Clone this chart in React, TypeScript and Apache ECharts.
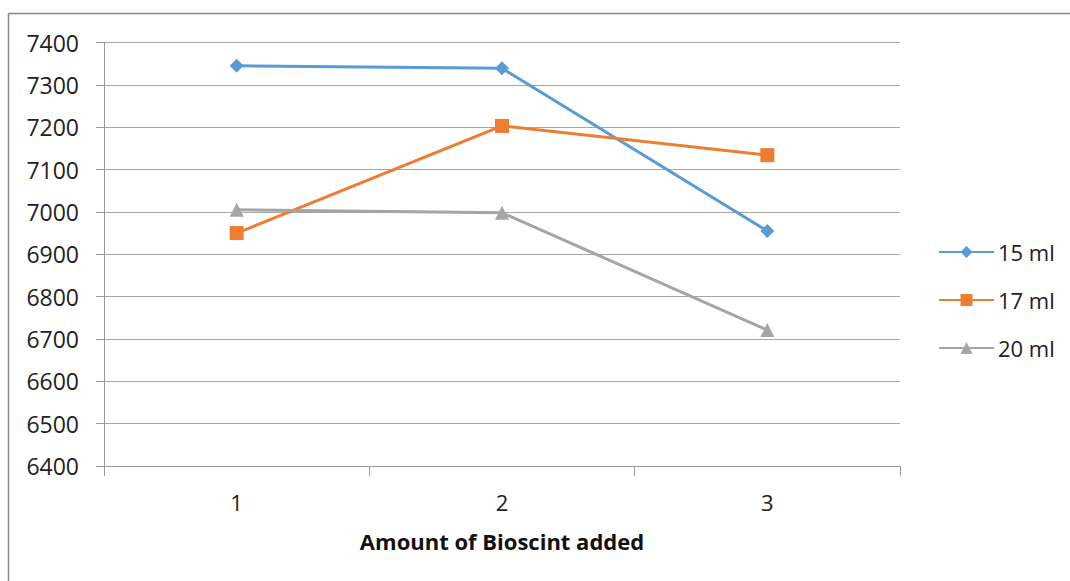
import React, { useEffect, useRef } from "react";
import * as echarts from "echarts";

const categories = ["1", "2", "3"];
const series15 = [7345, 7339, 6955];
const series17 = [6950, 7203, 7134];
const series20 = [7005, 6998, 6721];
const seriesNames = ["15 ml", "17 ml", "20 ml"];
const colors = ["#5b9bd5", "#ed7d31", "#a5a5a5"];

const FONT = "'Open Sans', sans-serif";

export default function App() {
  const ref = useRef<HTMLDivElement>(null);
  useEffect(() => {
    if (!ref.current) return;
    const chart = echarts.init(ref.current, undefined, { renderer: "svg" });
    const mk = (name: string, data: number[], color: string, symbol: string, size: number) => ({
      name,
      type: "line",
      data,
      symbol,
      symbolSize: size,
      lineStyle: { color, width: 3 },
      itemStyle: { color },
    });
    chart.setOption({
      animation: false,
      backgroundColor: "#ffffff",
      textStyle: { fontFamily: FONT },
      grid: { left: 104, right: 170, top: 42.5, bottom: 115 },
      legend: {
        orient: "vertical",
        left: 933,
        top: 235,
        itemWidth: 55,
        itemHeight: 15,
        itemGap: 24,
        textStyle: { fontSize: 22, lineHeight: 24, color: "#222", fontFamily: FONT, padding: [0, 0, 0, -1] },
        data: seriesNames,
      },
      xAxis: {
        type: "category",
        data: categories,
        boundaryGap: true,
        axisLine: { lineStyle: { color: "#999", width: 1 } },
        axisTick: { show: true, length: 10, lineStyle: { color: "#999" } },
        axisLabel: { fontSize: 22, color: "#222", margin: 25 },
        name: "Amount of Bioscint added",
        nameLocation: "middle",
        nameGap: 64,
        nameTextStyle: { fontSize: 22, fontWeight: "bold", color: "#111" },
      },
      yAxis: {
        type: "value",
        min: 6400,
        max: 7400,
        interval: 100,
        axisLine: { show: true, lineStyle: { color: "#999", width: 1 } },
        axisTick: { show: true, length: 8, lineStyle: { color: "#999" } },
        axisLabel: { fontSize: 23, color: "#222", margin: 25, formatter: (v: number) => String(v) },
        splitLine: { lineStyle: { color: "#a6a6a6", width: 1.2 } },
      },
      graphic: [
        { type: "line", shape: { x1: 8.5, y1: 13.5, x2: 1070, y2: 13.5 }, style: { stroke: "#888", lineWidth: 1.5 } },
        { type: "line", shape: { x1: 8.5, y1: 13.5, x2: 8.5, y2: 581 }, style: { stroke: "#888", lineWidth: 1.5 } },
      ],
      series: [
        mk(seriesNames[0], series15, colors[0], "diamond", 14),
        mk(seriesNames[1], series17, colors[1], "rect", 14),
        mk(seriesNames[2], series20, colors[2], "triangle", 14),
      ],
    });
    return () => chart.dispose();
  }, []);
  return (
    <div
      ref={ref}
      style={{ position: "fixed", left: 0, top: 0, width: 1070, height: 581 }}
    />
  );
}
